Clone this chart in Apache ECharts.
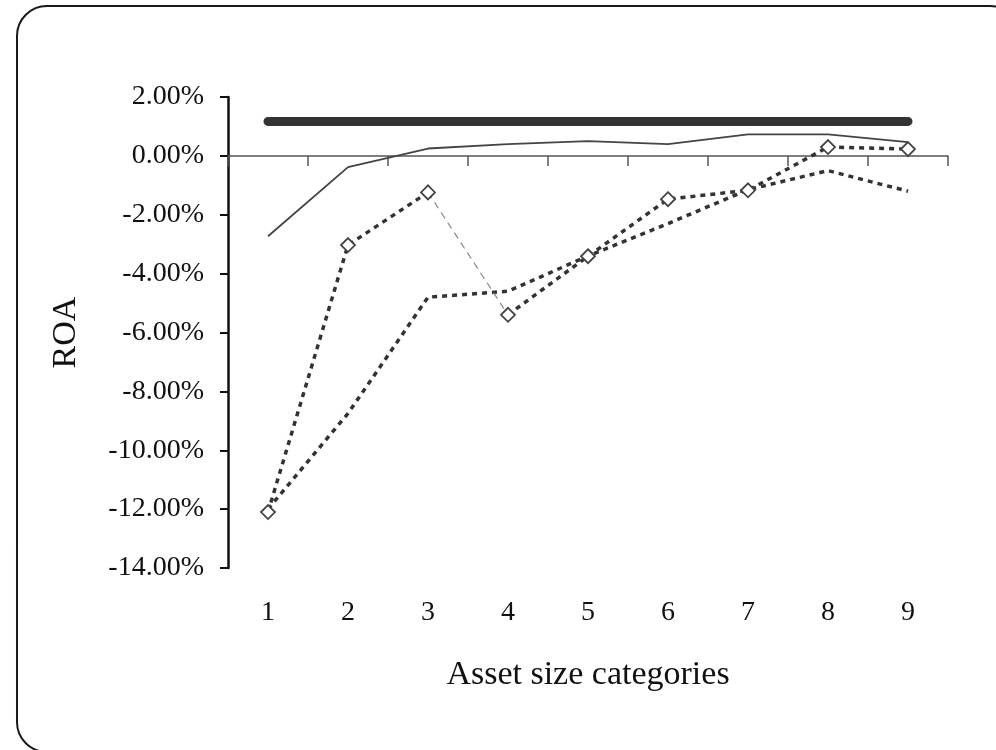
<!DOCTYPE html>
<html>
<head>
<meta charset="utf-8">
<script src="https://cdn.jsdelivr.net/npm/echarts@6/dist/echarts.min.js"></script>
<style>
html,body{margin:0;padding:0;background:#fff;}
#c{width:996px;height:750px;}
</style>
</head>
<body>
<div id="c"></div>
<script>
// ---- data ----
const categories = ['1','2','3','4','5','6','7','8','9'];
const benchmark = [1.17, 1.17, 1.17, 1.17, 1.17, 1.17, 1.17, 1.17, 1.17];
const solidSeries = [-2.73, -0.38, 0.25, 0.40, 0.50, 0.40, 0.73, 0.73, 0.47];
const diamondSeries = [-12.10, -3.03, -1.24, -5.40, -3.41, -1.47, -1.17, 0.30, 0.23];
const dottedSeries = [-12.00, -8.75, -4.80, -4.60, -3.40, -2.30, -1.15, -0.50, -1.20];
const yTicks = [-14, -12, -10, -8, -6, -4, -2, 0, 2];
const breakAt = 2; // diamond series: segment 3->4 drawn thin dashed

const segA = diamondSeries.map((v, i) => i <= breakAt ? v : '-');
const segThin = diamondSeries.map((v, i) => (i === breakAt || i === breakAt + 1) ? v : '-');
const segB = diamondSeries.map((v, i) => i >= breakAt + 1 ? v : '-');

const FONT = '"Liberation Serif", "Times New Roman", serif';
const chart = echarts.init(document.getElementById('c'), null, {renderer: 'canvas'});

const thickDot = {color: '#333', width: 3.5, type: [5, 5], cap: 'butt'};

chart.setOption({
  animation: false,
  backgroundColor: '#fff',
  graphic: [{
    type: 'rect',
    shape: {x: 17, y: 6, width: 1003, height: 746, r: 30},
    style: {fill: 'none', stroke: '#1a1a1a', lineWidth: 2},
    z: -10
  }],
  grid: {left: 228, right: 48, top: 97, bottom: 182},
  xAxis: [{
    type: 'category',
    data: categories,
    boundaryGap: true,
    axisLine: {show: true, onZero: true, lineStyle: {color: '#555', width: 1.5}},
    axisTick: {show: true, length: 10, lineStyle: {color: '#555', width: 1.5}},
    axisLabel: {show: false},
    splitLine: {show: false}
  }, {
    type: 'category',
    data: categories,
    position: 'bottom',
    boundaryGap: true,
    axisLine: {show: false, onZero: false},
    axisTick: {show: false},
    axisLabel: {show: true, margin: 31, fontFamily: FONT, fontSize: 28, color: '#111'},
    name: 'Asset size categories',
    nameLocation: 'middle',
    nameGap: 90,
    nameTextStyle: {fontFamily: FONT, fontSize: 34, color: '#111'},
    splitLine: {show: false}
  }],
  yAxis: {
    type: 'value',
    min: yTicks[0],
    max: yTicks[yTicks.length - 1],
    interval: 2,
    axisLine: {show: true, lineStyle: {color: '#111', width: 2.5}},
    axisTick: {show: true, length: 8, lineStyle: {color: '#111', width: 2}},
    axisLabel: {
      margin: 24, fontFamily: FONT, fontSize: 28, color: '#111',
      formatter: v => v.toFixed(2) + '%'
    },
    splitLine: {show: false},
    name: 'ROA',
    nameLocation: 'middle',
    nameGap: 145,
    nameTextStyle: {fontFamily: FONT, fontSize: 34, color: '#111'}
  },
  series: [
    {
      type: 'line', data: benchmark, symbol: 'none', xAxisIndex: 0,
      lineStyle: {color: '#333', width: 9, cap: 'round'}, z: 3
    },
    {
      type: 'line', data: solidSeries, symbol: 'none', xAxisIndex: 0,
      lineStyle: {color: '#444', width: 1.8}, z: 3
    },
    {
      type: 'line', data: dottedSeries, symbol: 'none', xAxisIndex: 0,
      lineStyle: thickDot, z: 3
    },
    {
      type: 'line', data: segA, symbol: 'none', xAxisIndex: 0, connectNulls: false,
      lineStyle: thickDot, z: 3
    },
    {
      type: 'line', data: segThin, symbol: 'none', xAxisIndex: 0, connectNulls: false,
      lineStyle: {color: '#888', width: 1.2, type: [7, 5]}, z: 3
    },
    {
      type: 'line', data: segB, symbol: 'none', xAxisIndex: 0, connectNulls: false,
      lineStyle: thickDot, z: 3
    },
    {
      type: 'scatter', data: diamondSeries, xAxisIndex: 0,
      symbol: 'diamond', symbolSize: 14,
      itemStyle: {color: '#fff', borderColor: '#444', borderWidth: 1.8, opacity: 1},
      z: 5
    }
  ]
});
</script>
</body>
</html>
